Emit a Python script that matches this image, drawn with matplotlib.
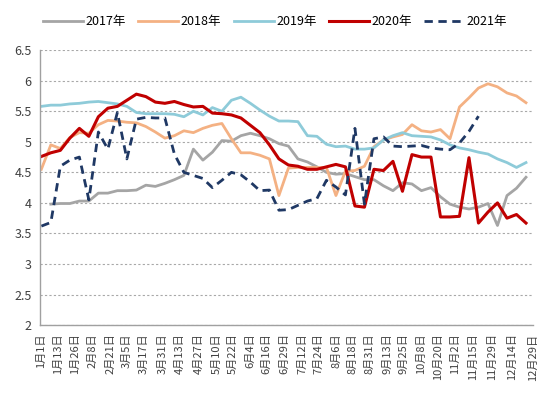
# -*- coding: utf-8 -*-

import matplotlib
matplotlib.use('Agg')
import matplotlib.pyplot as plt
import numpy as np

plt.rcParams['font.family'] = ['Noto Sans CJK SC', 'DejaVu Sans']

nan = np.nan

# 周度数据（从1月1日起每7天一个点）
weeks = np.arange(52) * 7

y2017 = [nan, 3.98, 3.99, 3.99, 4.03, 4.03, 4.16, 4.16, 4.20, 4.20,
         4.21, 4.29, 4.27, 4.32, 4.38, 4.45, 4.88, 4.70, 4.83, 5.02,
         5.01, 5.10, 5.14, 5.10, 5.05, 4.97, 4.93, 4.72, 4.67, 4.59,
         4.50, 4.47, 4.48, 4.43, 4.38, 4.38, 4.28, 4.20, 4.33, 4.31,
         4.20, 4.25, 4.10, 3.98, 3.93, 3.90, 3.93, 3.99, 3.63, 4.12,
         4.24, 4.42]
y2018 = [4.55, 4.95, 4.89, 5.07, 5.15, 5.14, 5.28, 5.35, 5.34, 5.32,
         5.31, 5.25, 5.16, 5.06, 5.10, 5.18, 5.15, 5.22, 5.27, 5.30,
         5.05, 4.82, 4.82, 4.78, 4.72, 4.12, 4.57, 4.58, 4.58, 4.58,
         4.58, 4.12, 4.52, 4.53, 4.60, 4.92, 5.03, 5.08, 5.12, 5.28,
         5.18, 5.16, 5.20, 5.05, 5.57, 5.72, 5.88, 5.95, 5.90, 5.80,
         5.75, 5.64]
y2019 = [5.58, 5.60, 5.60, 5.62, 5.63, 5.65, 5.66, 5.64, 5.62, 5.58,
         5.48, 5.46, 5.46, 5.46, 5.45, 5.41, 5.50, 5.44, 5.56, 5.50,
         5.68, 5.73, 5.63, 5.52, 5.42, 5.34, 5.34, 5.33, 5.10, 5.09,
         4.96, 4.92, 4.93, 4.88, 4.88, 4.90, 5.03, 5.10, 5.15, 5.10,
         5.09, 5.08, 5.03, 4.95, 4.90, 4.87, 4.83, 4.80, 4.72, 4.66,
         4.58, 4.66]
y2020 = [4.76, 4.82, 4.86, 5.06, 5.22, 5.09, 5.41, 5.55, 5.58, 5.68,
         5.78, 5.74, 5.65, 5.63, 5.66, 5.61, 5.57, 5.58, 5.47, 5.46,
         5.44, 5.39, 5.27, 5.15, 4.95, 4.72, 4.62, 4.60, 4.55, 4.55,
         4.59, 4.63, 4.59, 3.95, 3.93, 4.55, 4.53, 4.68, 4.19, 4.79,
         4.75, 4.75, 3.77, 3.77, 3.78, 4.74, 3.67, 3.85, 4.00, 3.75,
         3.81, 3.67]
y2021 = [3.62, 3.68, 4.60, 4.70, 4.75, 4.05, 5.16, 4.88, 5.48, 4.72,
         5.37, 5.40, 5.39, 5.39, 4.80, 4.50, 4.45, 4.40, 4.25, 4.37,
         4.50, 4.46, 4.34, 4.20, 4.21, 3.88, 3.89, 3.96, 4.03, 4.07,
         4.37, 4.26, 4.13, 5.22, 3.98, 5.05, 5.08, 4.93, 4.92, 4.93,
         4.94, 4.90, 4.88, 4.87, 4.98, 5.17, 5.42, nan, nan, nan,
         nan, nan]

# x轴标签（日期对应的天数）
tick_days = [0, 12, 25, 38, 51, 63, 75, 89, 102, 116, 129, 141, 154, 166,
             179, 192, 204, 217, 229, 242, 255, 267, 280, 292, 305, 318,
             332, 347, 362]
tick_labels = ['1月1日', '1月13日', '1月26日', '2月8日', '2月21日', '3月5日',
               '3月17日', '3月31日', '4月13日', '4月27日', '5月10日', '5月22日',
               '6月4日', '6月16日', '6月29日', '7月12日', '7月24日', '8月6日',
               '8月18日', '8月31日', '9月13日', '9月25日', '10月8日', '10月20日',
               '11月2日', '11月15日', '11月29日', '12月14日', '12月29日']

fig = plt.figure(figsize=(5.5, 3.95), dpi=100)
ax = fig.add_axes([0.0727, 0.177, 0.896, 0.696])

ax.plot(weeks, y2017, color='#a5a5a5', lw=2.0, label='2017年')
ax.plot(weeks, y2018, color='#f4b183', lw=2.0, label='2018年')
ax.plot(weeks, y2019, color='#8ecbd9', lw=2.0, label='2019年')
ax.plot(weeks, y2020, color='#c00000', lw=2.2, label='2020年')
ax.plot(weeks, y2021, color='#1f3864', lw=2.0, ls=(0, (3, 2)), label='2021年')

ax.set_xlim(-1, 362)
ax.set_ylim(2, 6.5)
ax.set_yticks(np.arange(2, 6.51, 0.5))
ax.set_yticklabels(['2', '2.5', '3', '3.5', '4', '4.5', '5', '5.5', '6', '6.5'],
                   fontsize=9, color='#404040')
ax.set_xticks(tick_days)
ax.set_xticklabels(tick_labels, rotation=90, fontsize=8, color='#404040')
ax.tick_params(length=0, pad=6)

ax.grid(True, axis='y', ls=(0, (2, 2)), color='#a8a8a8', lw=0.8)
for s in ['top', 'right']:
    ax.spines[s].set_visible(False)
for s in ['left', 'bottom']:
    ax.spines[s].set_color('#a0a0a0')
    ax.spines[s].set_linewidth(1.0)

fig.legend(loc='center', bbox_to_anchor=(0.5, 0.945), ncol=5, frameon=False,
           fontsize=9, handlelength=3.2, columnspacing=1.0, handletextpad=0.2)

plt.savefig('out.png', dpi=100)
